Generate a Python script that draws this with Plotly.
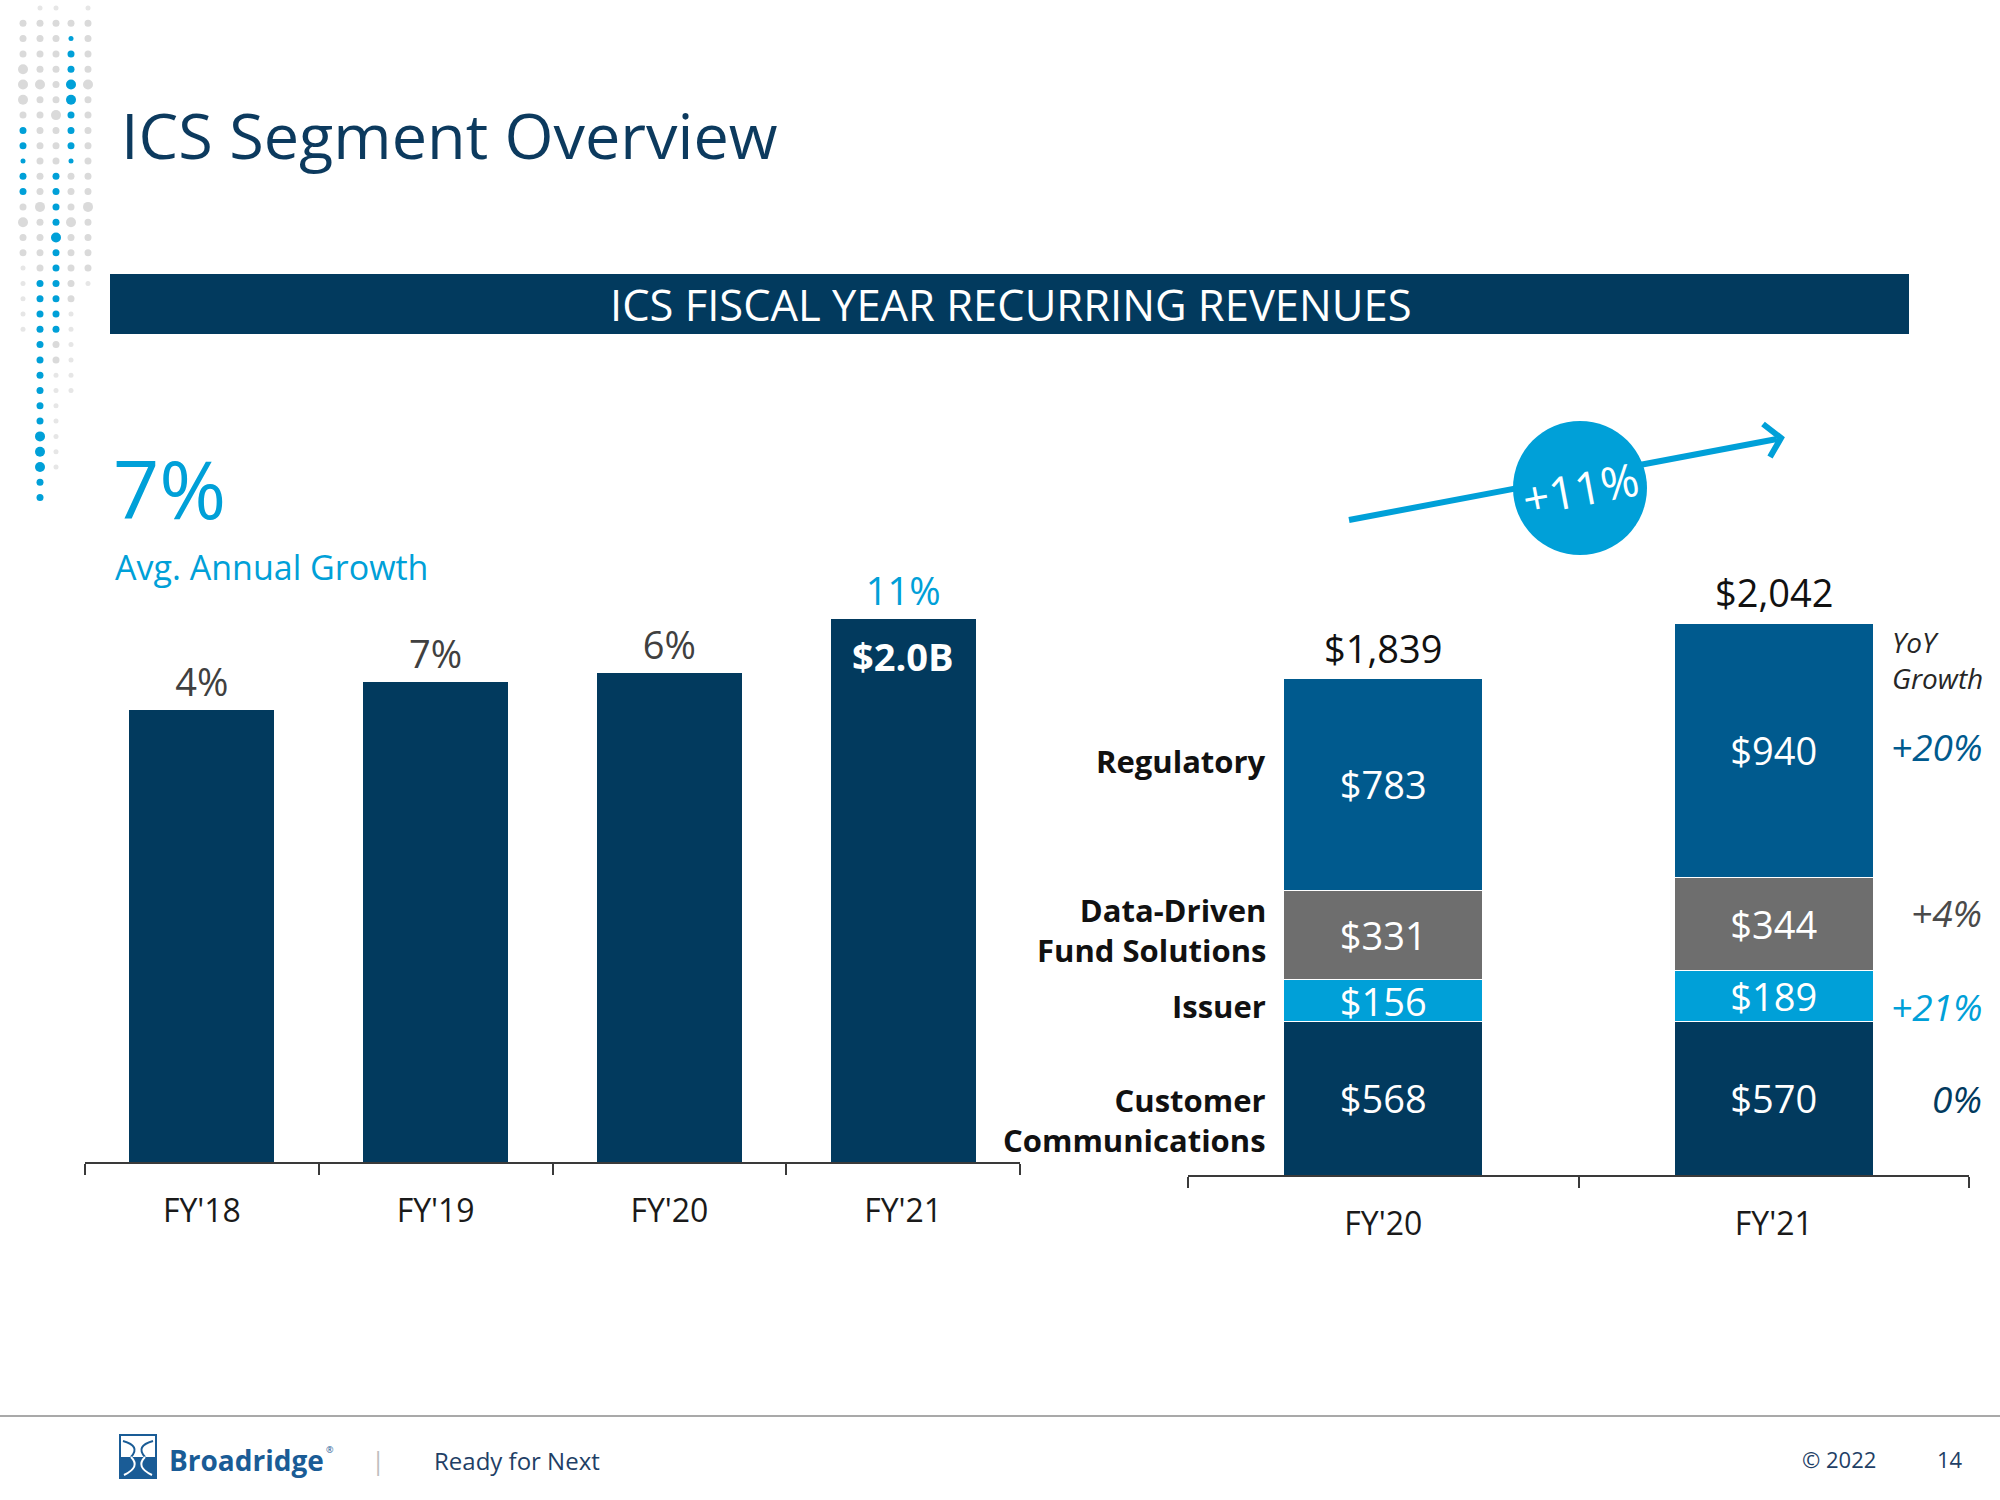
import plotly.graph_objects as go

W, H = 2000, 1500


def px(x):
    return x / W


def py(y):
    return 1 - y / H


NAVY = "#023A5E"
BLUE = "#005A8E"
GRAY = "#6E6E6E"
CYAN = "#00A0D8"
DOT_GRAY = "#DADADA"
DOT_LIGHT = "#E6E6E6"
FONT = "Open Sans"

# ---------------- data ----------------
years_left = ["FY'18", "FY'19", "FY'20", "FY'21"]
revenue_left = [1700, 1805, 1839, 2042]
growth_left = ["4%", "7%", "6%", "11%"]
latest_total_label = "$2.0B"
avg_growth_label = "7%"

years_right = ["FY'20", "FY'21"]
segment_names = ["Customer<br>Communications", "Issuer",
                 "Data-Driven<br>Fund Solutions", "Regulatory"]
customer_comms = [568, 570]
issuer = [156, 189]
data_driven = [331, 344]
regulatory = [783, 940]
totals_label = ["$1,839", "$2,042"]
yoy_growth = ["0%", "+21%", "+4%", "+20%"]
overall_growth = "+11%"

segments = [customer_comms, issuer, data_driven, regulatory]
seg_colors = [NAVY, CYAN, GRAY, BLUE]

fig = go.Figure()

# ---------------- left chart ----------------
fig.add_trace(go.Bar(
    x=years_left, y=revenue_left, width=0.62,
    marker=dict(color=NAVY, line=dict(width=0)),
    text=growth_left, textposition="outside", textangle=0,
    constraintext="none", cliponaxis=False,
    textfont=dict(family=FONT, size=38,
                  color=["#404040"] * (len(years_left) - 1) + [CYAN]),
    xaxis="x", yaxis="y", hoverinfo="skip", showlegend=False,
))

# ---------------- right chart (stacked) ----------------
for vals, col, name in zip(segments, seg_colors, segment_names):
    fig.add_trace(go.Bar(
        x=years_right, y=vals, width=0.51, name=name.replace("<br>", " "),
        marker=dict(color=col, line=dict(color="white", width=1)),
        texttemplate="$%{y}", textposition="inside", insidetextanchor="middle",
        textangle=0, constraintext="none",
        textfont=dict(family=FONT, size=38, color="white"),
        xaxis="x2", yaxis="y2", hoverinfo="skip", showlegend=False,
    ))

annotations = []
shapes = []


def ann(text, x, y, size, color, xanchor="left", yanchor="middle", bold=False,
        italic=False, xref="paper", yref="paper", **kw):
    annotations.append(dict(
        text=text, x=x, y=y, xref=xref, yref=yref, xanchor=xanchor,
        yanchor=yanchor, showarrow=False,
        font=dict(family=FONT, size=size, color=color,
                  weight="bold" if bold else "normal",
                  style="italic" if italic else "normal"),
        **kw))


# title and header
ann("ICS Segment Overview", px(119), py(135), 63, "#0C3A5E")
shapes.append(dict(type="rect", xref="paper", yref="paper", x0=px(110), x1=px(1909),
                   y0=py(334), y1=py(274), fillcolor=NAVY, line=dict(width=0), layer="below"))
ann("ICS FISCAL YEAR RECURRING REVENUES", px(1010), py(304), 43.5, "white", xanchor="center")

# left headline
ann(avg_growth_label, px(111), py(488), 81, CYAN)
ann("Avg. Annual Growth", px(113), py(567), 34, CYAN)
ann("<b>" + latest_total_label + "</b>", years_left[-1], revenue_left[-1], 38, "white",
    xanchor="center", yanchor="top", xref="x", yref="y", yshift=-9)

# right chart: totals above bars
for yr, lab, i in zip(years_right, totals_label, range(len(years_right))):
    tot = sum(s[i] for s in segments)
    ann(lab, yr, tot, 38, "#111111", xanchor="center", yanchor="bottom",
        xref="x2", yref="y2", yshift=3)

# segment name labels (aligned to FY'20 segments)
name_shift = [-22, -5, 5, 23]
cum = 0
for vals, name, sh in zip(segments, segment_names, name_shift):
    center = cum + vals[0] / 2
    cum += vals[0]
    ann(name, px(1268), center, 31, "#111111", xanchor="right", bold=True,
        yref="y2", yshift=sh, align="right")

# YoY growth labels (aligned to FY'21 segments)
yoy_colors = [NAVY, CYAN, "#4A4A4A", BLUE]
yoy_shift = [0, -11, 11, 4]
cum = 0
for vals, lab, col, sh in zip(segments, yoy_growth, yoy_colors, yoy_shift):
    center = cum + vals[1] / 2
    cum += vals[1]
    ann(lab, px(1984), center, 37, col, xanchor="right", italic=True,
        yref="y2", yshift=sh)
ann("YoY<br>Growth", px(1890), py(660), 28, "#262626", italic=True, align="left")

# growth arrow and bubble
x0, y0, x1, y1 = 1349, 520, 1777, 439
shapes.append(dict(type="line", xref="paper", yref="paper", x0=px(x0), y0=py(y0),
                   x1=px(x1), y1=py(y1), line=dict(color=CYAN, width=6)))
tip = (1781, 438)
up = (1763, 424)
lo = (1770, 457)
shapes.append(dict(type="path", xref="paper", yref="paper",
                   path=f"M{px(up[0])},{py(up[1])} L{px(tip[0])},{py(tip[1])} L{px(lo[0])},{py(lo[1])}",
                   line=dict(color=CYAN, width=6)))
cx, cy, r = 1580, 488, 67
shapes.append(dict(type="circle", xref="paper", yref="paper", x0=px(cx - r), x1=px(cx + r),
                   y0=py(cy + r), y1=py(cy - r), fillcolor=CYAN, line=dict(width=0)))
ann(overall_growth, px(cx), py(cy), 46, "white", xanchor="center", textangle=-10.7)

# decorative dot pattern (top-left)
dot_cols_x = [23, 40, 56, 71, 88]
dot_cols = [
    ".gggGGGgbbsbbgGgghhhhh...........",
    "hggggGgggggggGggggbbbbbbbbbbBBBbb",
    "hggggggGgggbbbbBbbbbbbgghhhhhhh..",
    ".gsbbBBbbbsgggGggggghhhhhh.......",
    "hggggGgggggggGggggh..............",
]
dot_style = {"h": (5, DOT_LIGHT), "g": (7, DOT_GRAY), "G": (10, DOT_GRAY),
             "s": (5, CYAN), "b": (7, CYAN), "B": (10, CYAN)}
for cxd, pattern in zip(dot_cols_x, dot_cols):
    for i, ch in enumerate(pattern):
        if ch == ".":
            continue
        d, col = dot_style[ch]
        cyd = 8 + 15.3 * i
        shapes.append(dict(type="circle", xref="paper", yref="paper",
                           x0=px(cxd - d / 2), x1=px(cxd + d / 2),
                           y0=py(cyd + d / 2), y1=py(cyd - d / 2),
                           fillcolor=col, line=dict(width=0), layer="below"))

# footer
shapes.append(dict(type="line", xref="paper", yref="paper", x0=0, x1=1,
                   y0=py(1416), y1=py(1416), line=dict(color="#A9A9A9", width=2)))
LOGO = "#1A5C96"
shapes.append(dict(type="rect", xref="paper", yref="paper", x0=px(120), x1=px(156),
                   y0=py(1478), y1=py(1435), fillcolor="white", line=dict(color=LOGO, width=2)))
shapes.append(dict(type="rect", xref="paper", yref="paper", x0=px(120), x1=px(156),
                   y0=py(1478), y1=py(1457), fillcolor=LOGO, line=dict(width=0)))


def curve(pts, color, width=2):
    (ax, ay), (bx, by), (cx_, cy_) = pts
    return dict(type="path", xref="paper", yref="paper",
                path=f"M{px(ax)},{py(ay)} Q{px(bx)},{py(by)} {px(cx_)},{py(cy_)}",
                line=dict(color=color, width=width))


shapes.append(curve([(123, 1441), (141, 1446), (131, 1457)], LOGO))
shapes.append(curve([(153, 1441), (135, 1446), (145, 1457)], LOGO))
shapes.append(curve([(131, 1457), (141, 1467), (124, 1475)], "white"))
shapes.append(curve([(145, 1457), (135, 1467), (152, 1475)], "white"))
ann("Broadridge", px(167), py(1460), 28, LOGO, bold=True)
ann("®", px(324), py(1449), 9, LOGO)
ann("|", px(378), py(1460), 26, "#BFBFBF", xanchor="center")
ann("Ready for Next", px(432), py(1460), 24, "#1F3F66")
ann("© 2022", px(1800), py(1459), 22, "#1F3F66")
ann("14", px(1935), py(1459), 22, "#1F3F66")

axis_common = dict(type="category", showline=True, linecolor="#3A3A3A", linewidth=2,
                   ticks="outside", tickson="boundaries", ticklen=11, tickwidth=2,
                   tickcolor="#3A3A3A", showgrid=False, zeroline=False,
                   tickfont=dict(family=FONT, size=32, color="#1A1A1A"),
                   ticklabelstandoff=20, fixedrange=True)

fig.update_layout(
    width=W, height=H, margin=dict(l=0, r=0, t=0, b=0, pad=0),
    paper_bgcolor="white", plot_bgcolor="rgba(0,0,0,0)",
    barmode="stack", showlegend=False,
    font=dict(family=FONT),
    xaxis=dict(domain=[px(85), px(1020)], anchor="y", **axis_common),
    yaxis=dict(domain=[py(1162), py(560)], range=[0, (1162 - 560) / 0.26592],
               visible=False, fixedrange=True),
    xaxis2=dict(domain=[px(1188), px(1969)], anchor="y2", **axis_common),
    yaxis2=dict(domain=[py(1175), py(560)], range=[0, (1175 - 560) / 0.27],
                visible=False, anchor="x2", fixedrange=True),
    annotations=annotations,
    shapes=shapes,
)

fig.write_html("out.html", config={"displayModeBar": False},
               post_script="document.body.style.margin='0';document.body.style.padding='0';")
